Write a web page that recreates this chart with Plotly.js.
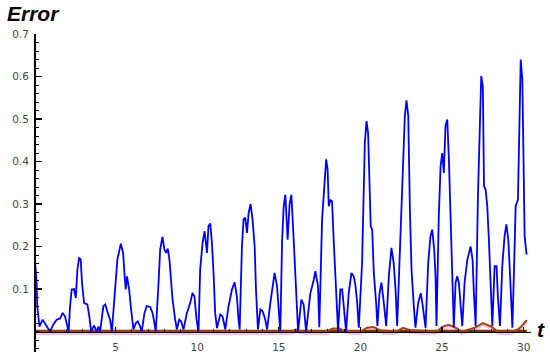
<!DOCTYPE html>
<html>
<head>
<meta charset="utf-8">
<script src="https://cdn.plot.ly/plotly-3.0.1.min.js"></script>
<style>
  html, body { margin: 0; padding: 0; background: #fff; }
  #chart { width: 550px; height: 360px; }
</style>
</head>
<body>
<div id="chart"></div>
<script>
// 时间轴 t 与误差曲线

// 蓝色误差曲线
const blueT = [
  0, 0.08, 0.16, 0.2, 0.33, 0.53, 0.67, 0.98, 1.19, 1.39, 1.6, 1.76, 1.9, 2.05, 2.12,
  2.21, 2.31, 2.45, 2.56, 2.66, 2.76, 2.86, 2.94, 3.07, 3.27, 3.39, 3.5,
  3.68, 3.85, 3.95, 4.05, 4.25, 4.37, 4.52, 4.66, 4.77,
  4.97, 5.11, 5.32, 5.46, 5.54, 5.62, 5.7, 5.83, 5.95, 6.09,
  6.24, 6.36, 6.5, 6.6, 6.77, 6.91, 7.12, 7.26, 7.38, 7.46,
  7.63, 7.73, 7.87, 7.99, 8.1, 8.2, 8.3, 8.4, 8.49, 8.65, 8.75,
  8.9, 9.02, 9.16, 9.37, 9.57, 9.71, 9.83, 9.96, 10.08,
  10.18, 10.33, 10.45, 10.6, 10.69, 10.8, 10.9, 11.0, 11.1, 11.21,
  11.41, 11.55, 11.72, 11.92, 12.13, 12.29, 12.43, 12.53, 12.6,
  12.74, 12.84, 12.94, 13.05, 13.15, 13.27, 13.39, 13.52, 13.6, 13.68, 13.72,
  13.87, 14.01, 14.17, 14.28, 14.48, 14.62, 14.74, 14.89, 14.99, 15.09,
  15.2, 15.3, 15.4, 15.54, 15.66, 15.77, 15.91, 15.97, 16.12, 16.18,
  16.38, 16.52, 16.67, 16.93, 17.14, 17.24, 17.4, 17.48,
  17.65, 17.81, 17.9, 17.99, 18.06, 18.16, 18.26, 18.36, 18.47, 18.57, 18.63,
  18.77, 18.88, 18.98, 19.12, 19.28, 19.45, 19.59, 19.69, 19.8, 19.9,
  20.1, 20.2, 20.27, 20.37, 20.47, 20.55, 20.63, 20.72, 20.82, 20.96, 21.04,
  21.17, 21.29, 21.43, 21.58, 21.74, 21.9, 22.04, 22.15, 22.25,
  22.45, 22.6, 22.72, 22.82, 22.93, 23.03, 23.13, 23.27, 23.37,
  23.54, 23.7, 23.82, 23.99, 24.15, 24.29, 24.4, 24.52, 24.6, 24.66,
  24.8, 24.91, 25.01, 25.11, 25.21, 25.32, 25.42, 25.52, 25.63, 25.72,
  25.83, 25.93, 26.03, 26.13, 26.24, 26.38, 26.55, 26.75, 26.87, 26.95, 27.06,
  27.2, 27.3, 27.4, 27.5, 27.57, 27.67, 27.77, 27.87, 27.98, 28.08,
  28.22, 28.34, 28.42, 28.55, 28.69, 28.83, 28.94, 29.06, 29.16, 29.31,
  29.41, 29.51, 29.65, 29.71, 29.82, 29.92, 29.98, 30.06, 30.18
];
const blueErr = [
  0.2, 0.16, 0.115, 0.06, 0.012, 0.028, 0.02, 0.0, 0.017, 0.028, 0.031, 0.044, 0.036, 0.012, 0.0,
  0.06, 0.099, 0.1, 0.079, 0.146, 0.173, 0.17, 0.115, 0.067, 0.064, 0.036, 0.0,
  0.014, 0.0, 0.012, 0.0, 0.06, 0.064, 0.044, 0.028, 0.0,
  0.099, 0.17, 0.207, 0.185, 0.138, 0.099, 0.13, 0.099, 0.052, 0.005,
  0.02, 0.024, 0.012, 0.0, 0.044, 0.06, 0.058, 0.044, 0.02, 0.0,
  0.115, 0.193, 0.223, 0.193, 0.185, 0.195, 0.169, 0.115, 0.075, 0.028, 0.005,
  0.028, 0.024, 0.005, 0.044, 0.067, 0.091, 0.083, 0.028, 0.0,
  0.146, 0.209, 0.236, 0.185, 0.248, 0.254, 0.209, 0.138, 0.044, 0.008,
  0.04, 0.036, 0.005, 0.06, 0.099, 0.116, 0.083, 0.028, 0.005,
  0.2, 0.264, 0.268, 0.232, 0.279, 0.3, 0.264, 0.2, 0.099, 0.028, 0.005,
  0.052, 0.048, 0.028, 0.005, 0.067, 0.107, 0.138, 0.107, 0.06, 0.0,
  0.213, 0.295, 0.322, 0.216, 0.3, 0.322, 0.216, 0.17, 0.028, 0.0,
  0.075, 0.064, 0.0, 0.09, 0.122, 0.142, 0.107, 0.01,
  0.264, 0.358, 0.405, 0.381, 0.295, 0.31, 0.306, 0.216, 0.122, 0.028, 0.0,
  0.099, 0.099, 0.06, 0.0, 0.09, 0.138, 0.13, 0.11, 0.068, 0.009,
  0.16, 0.326, 0.444, 0.495, 0.467, 0.358, 0.248, 0.24, 0.138, 0.068, 0.013,
  0.09, 0.115, 0.068, 0.013, 0.13, 0.197, 0.16, 0.099, 0.013,
  0.216, 0.373, 0.507, 0.544, 0.507, 0.287, 0.146, 0.06, 0.009,
  0.068, 0.09, 0.06, 0.009, 0.16, 0.224, 0.24, 0.193, 0.13, 0.013,
  0.27, 0.389, 0.42, 0.373, 0.483, 0.499, 0.405, 0.279, 0.13, 0.01,
  0.115, 0.13, 0.115, 0.06, 0.013, 0.115, 0.169, 0.2, 0.169, 0.091, 0.013,
  0.318, 0.499, 0.601, 0.577, 0.342, 0.334, 0.295, 0.216, 0.091, 0.013,
  0.154, 0.154, 0.083, 0.013, 0.154, 0.224, 0.252, 0.216, 0.138, 0.009,
  0.146, 0.295, 0.311, 0.444, 0.64, 0.593, 0.444, 0.224, 0.181
];

// 红色误差曲线（贴近 0，后段有小鼓包）
const redT   = [0, 15.8, 16.05, 16.3, 17.9, 18.3, 18.7, 19.1, 20.0, 20.4, 20.8, 21.2, 22.2, 22.6,
                23.0, 24.7, 25.0, 25.4, 25.8, 26.2, 27.0, 27.5, 28.0, 28.4, 29.3, 29.7, 30.0, 30.2];
const redErr = [0, 0, 0.005, 0, 0, 0.007, 0.007, 0, 0, 0.009, 0.011, 0.003, 0, 0.009,
                0.004, 0, 0.011, 0.016, 0.01, 0, 0.009, 0.02, 0.012, 0, 0, 0.006, 0.018, 0.027];

// 黑色误差曲线（几乎为 0）
const blackT   = [0, 30.2];
const blackErr = [0.001, 0.001];

// 粉色误差带
const pinkT   = [0, 15.8, 16.1, 16.4, 17.9, 18.4, 18.9, 19.3, 20.0, 20.5, 21.0, 21.4, 22.1, 22.6,
                 23.1, 24.6, 25.1, 25.5, 25.9, 26.2, 27.0, 27.5, 28.1, 28.5, 29.2, 29.7, 30.0, 30.2];
const pinkErr = [-0.004, -0.004, 0.002, -0.004, -0.004, 0.004, 0.004, -0.004, -0.004, 0.006, 0.007, -0.004, -0.004, 0.006,
                 -0.002, -0.004, 0.008, 0.012, 0.006, -0.004, 0.006, 0.016, 0.008, -0.004, -0.004, 0.004, 0.015, 0.024];

// 刻度
const xTicks = [5, 10, 15, 20, 25, 30];
const xTickText = ['5', '10', '15', '20', '25', '30'];
const yTicks = [0.1, 0.2, 0.3, 0.4, 0.5, 0.6, 0.7];
const yTickText = ['0.1', '0.2', '0.3', '0.4', '0.5', '0.6', '0.7'];

const xRange = [0, 30.45];
const yRange = [-0.048, 0.7];

const tickFont = { family: 'DejaVu Sans, sans-serif', size: 10.5, color: '#444' };
const labelFont = { family: 'Liberation Sans, Arial, sans-serif', size: 21, color: '#000' };

function lineTrace(x, y, color, width) {
    return {
        x: x,
        y: y,
        type: 'scatter',
        mode: 'lines',
        line: { color: color, width: width },
        hoverinfo: 'skip'
    };
}

const traces = [
    lineTrace(pinkT, pinkErr, '#ffc4e4', 3.5),
    lineTrace(blackT, blackErr, '#7a2e12', 3),
    lineTrace(redT, redErr, '#9a4a18', 2),
    lineTrace(blueT, blueErr, '#0000ff', 1.8)
];

// 两条轴都用 free，x 轴画在 y=0 处，y 轴画在 t=0 处
const xAxisPos = (0 - yRange[0]) / (yRange[1] - yRange[0]);

const layout = {
    width: 550,
    height: 360,
    margin: { l: 34, r: 19, t: 34, b: 8 },
    paper_bgcolor: '#fff',
    plot_bgcolor: '#fff',
    showlegend: false,
    xaxis: {
        range: xRange,
        anchor: 'free',
        position: xAxisPos,
        showline: true,
        linecolor: '#000',
        linewidth: 1.5,
        showgrid: false,
        zeroline: false,
        ticks: 'inside',
        ticklen: 5,
        tickwidth: 1.2,
        tickcolor: '#000',
        tickmode: 'array',
        tickvals: xTicks,
        ticktext: xTickText,
        ticklabelstandoff: 5,
        tickfont: tickFont,
        minor: { ticks: 'inside', tickmode: 'linear', tick0: 0, dtick: 1, ticklen: 3, tickwidth: 1, tickcolor: '#000' }
    },
    yaxis: {
        range: yRange,
        anchor: 'free',
        position: 0,
        showline: true,
        linecolor: '#000',
        linewidth: 1.5,
        showgrid: false,
        zeroline: false,
        ticks: 'inside',
        ticklen: 6,
        tickwidth: 1.2,
        tickcolor: '#000',
        tickmode: 'array',
        tickvals: yTicks,
        ticktext: yTickText,
        ticklabelstandoff: 3,
        tickfont: tickFont,
        minor: { ticks: 'inside', tickmode: 'linear', tick0: 0, dtick: 0.02, ticklen: 3.5, tickwidth: 1, tickcolor: '#000' }
    },
    annotations: [
        {
            text: '<b><i>Error</i></b>',
            xref: 'paper', yref: 'paper',
            x: -0.058, y: 1.063,
            xanchor: 'left', yanchor: 'middle',
            showarrow: false,
            font: labelFont
        },
        {
            text: '<b><i>t</i></b>',
            xref: 'paper', yref: 'y',
            x: 1.02, y: 0.005,
            xanchor: 'center', yanchor: 'middle',
            showarrow: false,
            font: labelFont
        }
    ]
};

Plotly.newPlot('chart', traces, layout, { staticPlot: true, displayModeBar: false });
</script>
</body>
</html>
